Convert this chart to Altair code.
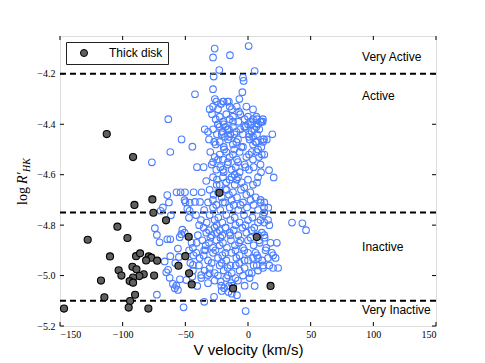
import altair as alt
import pandas as pd

# ---- axes / annotations ----
x_ticks = [-150, -100, -50, 0, 50, 100, 150]
y_ticks = [-5.2, -5.0, -4.8, -4.6, -4.4, -4.2]
threshold_lines = [-4.2, -4.75, -5.1]
region_labels = ["Very Active", "Active", "Inactive", "Very Inactive"]
region_label_v = [91, 91, 91, 91]
region_label_r = [-4.135, -4.287, -4.887, -5.137]

# ---- thick disk stars ----
thick_v = [-112.7, -91.7, -22.8, -76.3, -90.6, -75.5, -65.4, -104.2, -127.9, -96.2,
           -47.3, 7.0, -110.1, -89.3, -86.1, -79.2, -77.1, -81.3, -72.5, -50.0,
           -55.5, -92.2, -89.0, -103.2, -101.0, -83.2, -86.7, -74.9, -91.7, -47.0,
           -117.3, -94.4, -91.7, -44.9, -11.9, 18.0, -114.6, -90.1, -94.1, -146.8,
           -95.2, -79.5]
thick_r = [-4.439, -4.530, -4.672, -4.698, -4.720, -4.751, -4.781, -4.806, -4.858, -4.851,
           -4.846, -4.847, -4.924, -4.923, -4.912, -4.924, -4.929, -4.940, -4.941, -4.923,
           -4.961, -4.965, -4.975, -4.979, -5.000, -4.995, -5.002, -5.000, -5.008, -4.991,
           -5.020, -5.022, -5.028, -5.035, -5.051, -5.041, -5.086, -5.076, -5.101, -5.131,
           -5.127, -5.131]

# ---- thin disk stars (V, log R'HK) ----
blue_top = [(-26.6, -4.100), (-27.9, -4.135), (-14.4, -4.126), (0.5, -4.090), (-22.9, -4.185),
            (-27.4, -4.211), (5.3, -4.189), (-4.0, -4.215), (-3.5, -4.228), (-27.9, -4.261),
            (-4.5, -4.273), (-42.3, -4.281), (-6.9, -4.300), (-26.4, -4.300), (-63.6, -4.380),
            (-53.0, -4.460), (-44.4, -4.489), (-62.0, -4.510), (-76.7, -4.551), (19.4, -4.440),
            (4.0, -4.341), (-40.7, -4.570), (-35.4, -4.570), (16.8, -4.582), (20.5, -4.611),
            (7.2, -4.631), (-33.3, -4.625), (-19.9, -4.31), (-15.3, -4.31), (10.8, -4.39),
            (7.3, -4.38), (-34.5, -4.42)]

blue_upper = [(-25.3, -4.31), (-21.6, -4.32), (-19.4, -4.31), (-16.5, -4.31), (-14.6, -4.33),
              (-9.0, -4.33), (-1.3, -4.33), (-30.6, -4.34), (-27.9, -4.33), (-23.9, -4.34),
              (-12.8, -4.34), (-7.2, -4.35),
              (-28.7, -4.36), (-25.8, -4.38), (-22.6, -4.37), (-20.0, -4.39), (-17.3, -4.36),
              (-14.6, -4.38), (-12.0, -4.37), (-7.7, -4.39), (-6.1, -4.36), (-2.7, -4.38),
              (0.0, -4.37), (1.9, -4.39), (4.0, -4.38), (6.7, -4.37), (9.8, -4.39),
              (11.9, -4.38), (8.0, -4.40),
              (-31.9, -4.43), (-27.9, -4.42), (-24.8, -4.44), (-22.6, -4.41), (-20.5, -4.43),
              (-18.4, -4.45), (-16.2, -4.42), (-14.1, -4.44), (-12.0, -4.41), (-9.3, -4.43),
              (-6.1, -4.42), (-4.0, -4.44), (-1.9, -4.41), (0.8, -4.45), (2.9, -4.43),
              (5.1, -4.42), (7.2, -4.44), (12.0, -4.46), (-23.9, -4.40), (-19.4, -4.40),
              (-15.2, -4.42), (-10.9, -4.44), (0.0, -4.40), (4.0, -4.45), (6.7, -4.41),
              (-31.1, -4.46), (-25.8, -4.48), (-22.6, -4.47), (-19.4, -4.49), (-16.0, -4.46),
              (-12.0, -4.48), (-9.3, -4.47), (-5.3, -4.49), (1.3, -4.46), (4.0, -4.48),
              (6.7, -4.47), (10.6, -4.49), (12.8, -4.46),
              (-30.1, -4.51), (-26.6, -4.53), (-22.6, -4.52), (-20.0, -4.54), (-17.3, -4.51),
              (-14.6, -4.53), (-12.0, -4.52), (-8.8, -4.54), (-6.7, -4.51), (-1.3, -4.53),
              (0.8, -4.52), (4.0, -4.54), (6.7, -4.51), (8.8, -4.53), (11.0, -4.52),
              (-24.0, -4.40), (-18.0, -4.41), (-12.0, -4.39), (-3.0, -4.41), (3.0, -4.40),
              (9.0, -4.42), (-21.0, -4.44), (-15.0, -4.45), (-8.0, -4.46), (1.0, -4.44),
              (6.0, -4.47), (-27.0, -4.47), (-19.0, -4.50), (-11.0, -4.50), (-4.0, -4.49),
              (3.0, -4.51), (-24.0, -4.54), (-16.0, -4.55), (-8.0, -4.55), (-2.0, -4.57)]

blue_middle = [(-29.0, -4.56), (-25.3, -4.58), (-22.1, -4.57), (-19.4, -4.59), (-16.2, -4.56),
               (-13.0, -4.58), (-9.8, -4.57), (-6.7, -4.59), (-2.7, -4.56), (0.8, -4.58),
               (4.5, -4.57), (10.4, -4.59), (-27.9, -4.55), (-10.6, -4.60),
               (-27.9, -4.61), (-24.8, -4.62), (-22.6, -4.64), (-20.0, -4.61), (-17.3, -4.63),
               (-14.6, -4.62), (-10.6, -4.64), (-8.0, -4.61), (-5.1, -4.63), (0.0, -4.62),
               (4.0, -4.64), (8.0, -4.61),
               (-30.6, -4.66), (-27.4, -4.68), (-23.9, -4.67), (-21.0, -4.69), (-17.8, -4.66),
               (-15.2, -4.68), (-12.0, -4.67), (-8.8, -4.69), (-5.6, -4.66), (-1.3, -4.68),
               (1.9, -4.67), (6.1, -4.69),
               (-31.9, -4.71), (-27.9, -4.73), (-25.3, -4.72), (-22.1, -4.74), (-18.4, -4.71),
               (-14.6, -4.73), (-11.4, -4.72), (-7.7, -4.74), (-4.0, -4.71), (-0.8, -4.73),
               (4.5, -4.72), (8.0, -4.74), (10.1, -4.71), (12.8, -4.73),
               (-20.0, -4.58), (-13.0, -4.61), (-25.0, -4.64), (-17.0, -4.66), (-9.0, -4.62),
               (-3.0, -4.65), (-28.0, -4.70), (-20.0, -4.71), (-13.0, -4.70), (-6.0, -4.72),
               (2.0, -4.70), (13.0, -4.75), (10.0, -4.70), (13.0, -4.71), (15.0, -4.46),
               (12.0, -4.47), (13.0, -4.52), (10.0, -4.56), (8.0, -4.50), (11.7, -4.39)]

blue_lower = [(-30.6, -4.76), (-26.6, -4.78), (-23.7, -4.77), (-20.5, -4.79), (-17.3, -4.76),
              (-14.1, -4.78), (-10.6, -4.77), (-6.7, -4.79), (-3.2, -4.76), (0.0, -4.78),
              (3.5, -4.77), (8.0, -4.79), (12.0, -4.76), (16.0, -4.78),
              (-35.4, -4.81), (-33.3, -4.83), (-31.1, -4.82), (-29.0, -4.84), (-26.6, -4.81),
              (-24.8, -4.83), (-22.6, -4.82), (-20.5, -4.84), (-17.8, -4.81), (-14.6, -4.83),
              (-11.4, -4.82), (-7.7, -4.84), (-4.5, -4.81), (-1.3, -4.83), (2.9, -4.82),
              (8.0, -4.84), (13.3, -4.85),
              (-36.5, -4.86), (-33.8, -4.88), (-31.1, -4.87), (-27.9, -4.89), (-25.3, -4.86),
              (-22.6, -4.88), (-20.0, -4.87), (-16.8, -4.89), (-13.6, -4.86), (-10.4, -4.88),
              (-7.2, -4.87), (-4.0, -4.89), (0.0, -4.86), (4.5, -4.88), (9.3, -4.87),
              (14.6, -4.89),
              (-41.3, -4.91), (-38.6, -4.93), (-35.4, -4.92), (-31.9, -4.94), (-27.9, -4.91),
              (-23.9, -4.93), (-20.5, -4.92), (-17.3, -4.94), (-13.3, -4.91), (-9.3, -4.93),
              (-6.7, -4.92), (-2.7, -4.94), (0.0, -4.91), (4.0, -4.93), (7.2, -4.92),
              (11.4, -4.94), (16.0, -4.93),
              (-39.1, -4.96), (-34.6, -4.98), (-30.6, -4.97), (-26.6, -4.99), (-22.6, -4.96),
              (-19.4, -4.98), (-16.2, -4.97), (-13.0, -4.99), (-9.8, -4.96), (-6.7, -4.98),
              (-2.7, -4.97), (0.8, -4.99), (4.5, -4.96), (8.0, -4.98), (12.0, -4.97),
              (-37.3, -5.01), (-31.9, -5.03), (-26.6, -5.02), (-21.3, -5.04), (-17.3, -5.01),
              (-13.3, -5.03), (-8.0, -5.02), (-2.7, -5.04), (1.3, -5.01),
              (-33.0, -4.79), (-25.0, -4.80), (-18.0, -4.81), (-10.0, -4.80), (-2.0, -4.80),
              (5.0, -4.81), (-30.0, -4.85), (-22.0, -4.85), (-14.0, -4.84), (-6.0, -4.86),
              (2.0, -4.85), (9.0, -4.86), (-34.0, -4.90), (-26.0, -4.90), (-18.0, -4.91),
              (-10.0, -4.90), (-3.0, -4.90), (6.0, -4.91), (-29.0, -4.95), (-21.0, -4.95),
              (-14.0, -4.96), (-7.0, -4.95), (0.0, -4.94), (7.0, -4.96), (-24.0, -5.00),
              (-16.0, -5.00), (-10.0, -5.01), (-4.0, -5.00), (3.0, -4.99), (-19.0, -5.05),
              (-12.0, -5.04)]

blue_right = [(35.1, -4.790), (43.4, -4.793), (46.3, -4.820), (16.2, -4.731), (10.0, -4.78),
              (13.0, -4.79), (17.0, -4.80), (18.0, -4.87), (23.0, -4.87), (20.0, -4.92),
              (22.0, -4.93), (20.0, -4.97), (24.0, -4.97), (17.0, -4.96), (12.0, -4.96),
              (14.0, -4.90), (11.0, -4.83), (13.0, -4.84), (8.0, -4.93), (19.0, -4.91)]

blue_left = [(-64.4, -4.681), (-57.0, -4.670), (-53.8, -4.670), (-50.3, -4.670), (-43.4, -4.670),
             (-37.0, -4.670), (-63.1, -4.710), (-50.6, -4.701), (-49.9, -4.709), (-46.6, -4.711),
             (-42.3, -4.708), (-38.3, -4.708), (-67.9, -4.730), (-69.7, -4.743), (-48.4, -4.735),
             (-46.6, -4.743), (-61.5, -4.761), (-47.1, -4.771), (-74.3, -4.812), (-72.7, -4.839),
             (-70.6, -4.868), (-64.4, -4.856), (-62.0, -4.856), (-53.2, -4.836), (-52.4, -4.818),
             (-50.6, -4.830), (-54.5, -4.848), (-55.9, -4.893), (-62.0, -4.923), (-55.1, -4.926),
             (-66.5, -4.944), (-65.2, -4.987), (-62.5, -5.009), (-63.8, -4.977), (-59.9, -5.033),
             (-57.2, -5.040), (-55.9, -5.057), (-72.7, -5.076), (-54.3, -5.015), (-49.2, -5.018),
             (-43.9, -4.958), (-43.9, -4.980), (-44.4, -5.004), (-37.3, -4.998), (-32.0, -4.998),
             (-30.6, -4.991), (-45.0, -4.870), (-44.0, -4.890), (-47.0, -4.900), (-43.5, -4.920),
             (-46.0, -4.950), (-41.0, -4.870), (-40.0, -4.840), (-39.0, -4.800), (-37.5, -4.780),
             (-41.5, -4.760), (-35.0, -4.740), (-35.0, -4.900), (-58.0, -4.950), (-58.4, -5.050)]

blue_bottom = [(-51.4, -5.126), (-40.5, -5.041), (-34.9, -5.104), (-27.1, -5.084), (-21.0, -5.061),
               (-15.6, -5.065), (-8.8, -5.078), (-13.0, -5.072), (-1.9, -5.141), (5.3, -5.041),
               (-15.2, -5.041), (-21.9, -5.024)]

blue_all = blue_top + blue_upper + blue_middle + blue_lower + blue_right + blue_left + blue_bottom
thin_df = pd.DataFrame(blue_all, columns=["v", "r"])
thick_df = pd.DataFrame({"v": thick_v, "r": thick_r, "group": ["Thick disk"] * len(thick_v)})
lines_df = pd.DataFrame({"r": threshold_lines})
labels_df = pd.DataFrame({"v": region_label_v, "r": region_label_r, "t": region_labels})
xt_df = pd.DataFrame({"v": x_ticks})
yt_df = pd.DataFrame({"r": y_ticks})

W, H = 376, 290
BLUE = "#4a7dff"
SERIF = "Liberation Serif"
SANS = "Liberation Sans"

xscale = alt.Scale(domain=[-150, 150], nice=False, zero=False)
yscale = alt.Scale(domain=[-5.2, -4.05], nice=False, zero=False)
xaxis = alt.Axis(values=x_ticks, format="d", labelFont=SERIF, labelFontSize=10, labelColor="black",
                 ticks=False, domain=False, grid=False, labelPadding=3,
                 title="V velocity (km/s)", titleFont=SANS, titleFontSize=15,
                 titleFontWeight="normal", titleColor="black", titlePadding=3)
yaxis = alt.Axis(values=y_ticks, format=".1f", labelFont=SERIF, labelFontSize=10, labelColor="black",
                 ticks=False, domain=False, grid=False, labelPadding=5, title=None)

thin = alt.Chart(thin_df).mark_point(shape="circle", filled=False, size=44, strokeWidth=1.1,
                                     color=BLUE, opacity=1).encode(
    x=alt.X("v:Q", scale=xscale, axis=xaxis),
    y=alt.Y("r:Q", scale=yscale, axis=yaxis),
)

thick = alt.Chart(thick_df).mark_point(shape="circle", filled=True, size=50, stroke="black",
                                       strokeWidth=1.1, opacity=1).encode(
    x="v:Q", y="r:Q",
    fill=alt.Fill("group:N", scale=alt.Scale(domain=["Thick disk"], range=["#606060"]),
                  legend=alt.Legend(title=None, orient="none", legendX=6, legendY=6,
                                    strokeColor="#222222", fillColor="white", padding=5,
                                    labelFont=SANS, labelFontSize=12, labelColor="black",
                                    labelOffset=19, symbolSize=50, symbolType="circle",
                                    symbolStrokeColor="black", symbolStrokeWidth=1,
                                    symbolOffset=7)),
)

rules = alt.Chart(lines_df).mark_rule(color="black", strokeWidth=2, strokeDash=[6, 4]).encode(
    y="r:Q")

labels = alt.Chart(labels_df).mark_text(align="left", baseline="middle", font=SANS,
                                        fontSize=12, color="black").encode(
    x="v:Q", y="r:Q", text="t:N")

tick_b = alt.Chart(xt_df).mark_rule(color="black").encode(x="v:Q", y=alt.value(H), y2=alt.value(H - 4))
tick_t = alt.Chart(xt_df).mark_rule(color="black").encode(x="v:Q", y=alt.value(0), y2=alt.value(4))
tick_l = alt.Chart(yt_df).mark_rule(color="black").encode(y="r:Q", x=alt.value(0), x2=alt.value(4))
tick_r = alt.Chart(yt_df).mark_rule(color="black").encode(y="r:Q", x=alt.value(W), x2=alt.value(W - 4))

ytitle_df = pd.DataFrame({"t": ["log"]})
ytitle_r_df = pd.DataFrame({"t": ["R′"]})
ytitle_s_df = pd.DataFrame({"t": ["HK"]})
yt1 = alt.Chart(ytitle_df).mark_text(angle=270, align="left", baseline="middle", font=SERIF,
                                     fontSize=14, color="black").encode(
    text="t:N", x=alt.value(-37), y=alt.value(169))
yt2 = alt.Chart(ytitle_r_df).mark_text(angle=270, align="left", baseline="middle", font=SERIF,
                                       fontSize=14, fontStyle="italic", color="black").encode(
    text="t:N", x=alt.value(-37), y=alt.value(148))
yt3 = alt.Chart(ytitle_s_df).mark_text(angle=270, align="left", baseline="middle", font=SERIF,
                                       fontSize=10, fontStyle="italic", color="black").encode(
    text="t:N", x=alt.value(-33), y=alt.value(136))

chart = alt.layer(rules, thin, thick, labels, tick_b, tick_t, tick_l, tick_r, yt1, yt2, yt3).properties(
    width=W, height=H,
    autosize=alt.AutoSizeParams(type="none"),
    padding={"left": 52, "top": 28, "right": 20, "bottom": 40},
).configure_view(stroke="black", strokeWidth=1.2).configure(background="white")

chart.save("out.html", embed_options={"renderer": "svg", "actions": False})
